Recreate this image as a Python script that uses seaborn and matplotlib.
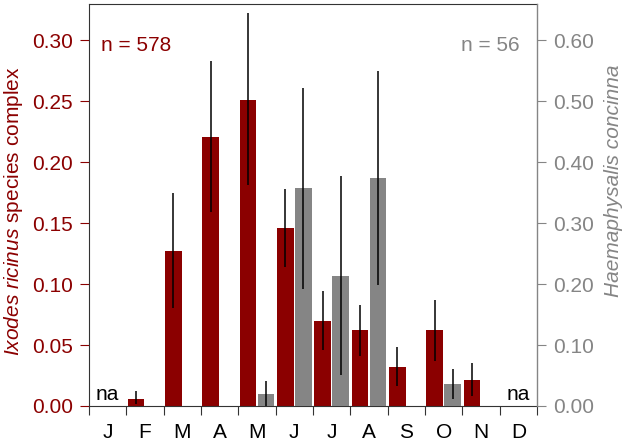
import numpy as np
import pandas as pd
import matplotlib
matplotlib.use('Agg')
import matplotlib.pyplot as plt
import seaborn as sns
from matplotlib.ticker import FixedLocator, NullFormatter, FormatStrFormatter

sns.set_style('white')
plt.rcParams['font.family'] = ['Liberation Sans', 'DejaVu Sans']
plt.rcParams['mathtext.fontset'] = 'custom'
plt.rcParams['mathtext.rm'] = 'Liberation Sans'
plt.rcParams['mathtext.it'] = 'Liberation Sans:italic'

# Data
months = ['J', 'F', 'M', 'A', 'M', 'J', 'J', 'A', 'S', 'O', 'N', 'D']
ixodes = [np.nan, 0.006, 0.127, 0.221, 0.251, 0.146, 0.070, 0.062, 0.032, 0.062, 0.021, np.nan]
ixodes_lo = [np.nan, 0.002, 0.080, 0.159, 0.181, 0.114, 0.046, 0.041, 0.016, 0.037, 0.008, np.nan]
ixodes_hi = [np.nan, 0.012, 0.175, 0.283, 0.322, 0.178, 0.094, 0.083, 0.048, 0.087, 0.035, np.nan]
haema = [np.nan, 0.0, 0.0, 0.0, 0.020, 0.357, 0.213, 0.374, 0.0, 0.036, 0.0, np.nan]
haema_lo = [np.nan, np.nan, np.nan, np.nan, 0.000, 0.192, 0.051, 0.199, np.nan, 0.012, np.nan, np.nan]
haema_hi = [np.nan, np.nan, np.nan, np.nan, 0.041, 0.522, 0.378, 0.550, np.nan, 0.060, np.nan, np.nan]
n_ixodes = 578
n_haema = 56

RED = '#8b0000'
GREY = '#858585'
FS = 15
species = ['Ixodes', 'Haema']
idx = np.arange(len(months))

df_i = pd.DataFrame({'m': idx, 'sp': 'Ixodes', 'v': ixodes})
df_h = pd.DataFrame({'m': idx, 'sp': 'Haema', 'v': haema})

fig = plt.figure(figsize=(6.26, 4.41), dpi=100)
ax1 = fig.add_axes([0.1422, 0.0794, 0.7156, 0.9122])
ax2 = ax1.twinx()

sns.barplot(data=df_i, x='m', y='v', hue='sp', hue_order=species,
            palette={'Ixodes': RED, 'Haema': GREY}, errorbar=None,
            width=0.96, gap=0.08, dodge=True, legend=False, ax=ax1,
            linewidth=0, saturation=1)
sns.barplot(data=df_h, x='m', y='v', hue='sp', hue_order=species,
            palette={'Ixodes': RED, 'Haema': GREY}, errorbar=None,
            width=0.96, gap=0.08, dodge=True, legend=False, ax=ax2,
            linewidth=0, saturation=1)

ax1.vlines(idx - 0.24, ixodes_lo, ixodes_hi, color='black', lw=1.1, zorder=5)
ax2.vlines(idx + 0.24, haema_lo, haema_hi, color='black', lw=1.1, zorder=5)

for ax in (ax1, ax2):
    ax.set_xlim(-0.5, 11.5)
    ax.set_xlabel('')
    ax.set_ylabel('')
ax1.set_ylim(0, 0.33)
ax2.set_ylim(0, 0.66)

# x axis: ticks at month boundaries, labels in the middle
ax1.xaxis.set_major_locator(FixedLocator(np.arange(-0.5, 12, 1)))
ax1.xaxis.set_major_formatter(NullFormatter())
ax1.xaxis.set_minor_locator(FixedLocator(idx))
ax1.set_xticklabels(months, minor=True)
ax1.tick_params(axis='x', which='major', direction='out', length=6.5, width=0.8,
                color='#333333', bottom=True)
ax1.tick_params(axis='x', which='minor', length=0, pad=12, labelsize=FS,
                labelcolor='black', bottom=True)

ax1.set_yticks(np.arange(0, 0.31, 0.05))
ax1.yaxis.set_major_formatter(FormatStrFormatter('%.2f'))
ax1.tick_params(axis='y', direction='out', length=6.5, width=0.8, color=RED,
                labelcolor=RED, labelsize=FS, pad=5, left=True)
ax2.set_yticks(np.arange(0, 0.61, 0.10))
ax2.yaxis.set_major_formatter(FormatStrFormatter('%.2f'))
ax2.tick_params(axis='y', direction='out', length=6.5, width=0.8, color=GREY,
                labelcolor=GREY, labelsize=FS, pad=5, right=True)

for s in ('left', 'top', 'bottom'):
    ax1.spines[s].set_color('#333333')
    ax1.spines[s].set_linewidth(0.8)
    ax2.spines[s].set_visible(False)
ax1.spines['right'].set_visible(False)
ax2.spines['right'].set_color(GREY)
ax2.spines['right'].set_linewidth(1.0)

ax1.set_ylabel(r'$\it{Ixodes\ ricinus}$ species complex', color=RED, fontsize=FS)
ax1.yaxis.set_label_coords(-0.142, 0.483)
ax2.set_ylabel('Haemaphysalis concinna', color=GREY, fontsize=FS, style='italic')
ax2.yaxis.set_label_coords(1.15, 0.56)

ax1.text(0.027, 0.895, f'n = {n_ixodes}', transform=ax1.transAxes, color=RED,
         fontsize=FS, ha='left', va='center')
ax1.text(0.962, 0.895, f'n = {n_haema}', transform=ax1.transAxes, color=GREY,
         fontsize=FS, ha='right', va='center')

for i in (0, 11):
    ax1.text(idx[i], 0.002, 'na', ha='center', va='bottom', fontsize=FS, color='black')

fig.savefig('out.png', dpi=100)
